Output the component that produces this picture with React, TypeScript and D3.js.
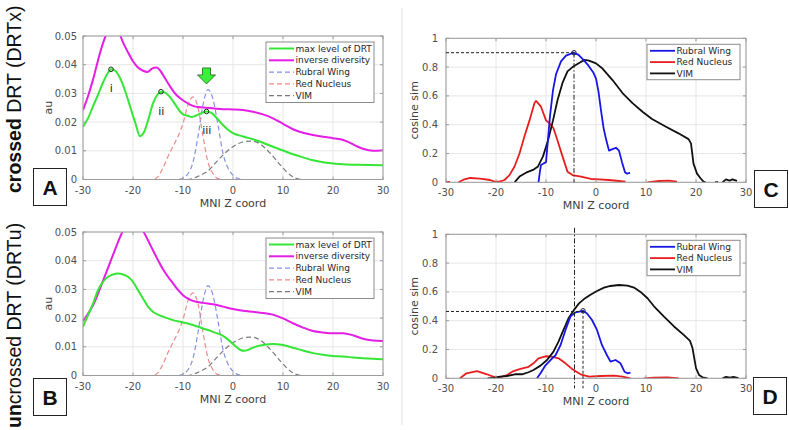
import React, { useEffect, useRef } from "react";
import * as d3 from "d3";

type Pt = [number, number];
const GAP: Pt = [NaN, NaN];

const zTicks = [-30, -20, -10, 0, 10, 20, 30];
const auTicks = [0, 0.01, 0.02, 0.03, 0.04, 0.05];
const simTicks = [0, 0.2, 0.4, 0.6, 0.8, 1];

// panel A - crossed DRT
const maxLevelA: Pt[] = [
  [-30, 0.0184], [-29, 0.0213], [-28, 0.0255], [-27, 0.0295], [-26, 0.0338], [-25, 0.0372],
  [-24.4, 0.0384], [-23.5, 0.0378], [-22.5, 0.035], [-21.5, 0.0305], [-20.5, 0.025], [-19.5, 0.0195],
  [-18.6, 0.0151], [-17.8, 0.0165], [-17, 0.0205], [-16, 0.0265], [-15, 0.0298], [-14.4, 0.0306],
  [-13.5, 0.0302], [-12.5, 0.0285], [-11.5, 0.026], [-10.5, 0.0235], [-9.8, 0.0225], [-9, 0.0222],
  [-8.3, 0.0218], [-7.5, 0.0222], [-6.5, 0.023], [-5.3, 0.0237], [-4.3, 0.0232], [-3.3, 0.0215],
  [-2.3, 0.0195], [-1.3, 0.0178], [0, 0.0162], [2, 0.015], [4, 0.014], [6, 0.0128], [8, 0.0114],
  [10, 0.0101], [12, 0.0088], [14, 0.0077], [16, 0.0067], [18, 0.006], [20, 0.0056], [22, 0.0053],
  [25, 0.0051], [30, 0.005],
];
const invDiversityA: Pt[] = [
  [-30, 0.0242], [-29, 0.029], [-28, 0.0348], [-27, 0.0415], [-26, 0.0475], [-25, 0.0518],
  [-24, 0.0535], [-23, 0.052], [-22, 0.0478], [-21, 0.0443], [-20, 0.0412], [-19, 0.039],
  [-18, 0.0379], [-17.1, 0.0375], [-16.2, 0.0386], [-15.3, 0.039], [-14.5, 0.0378], [-13.5, 0.035],
  [-12.5, 0.0322], [-11.5, 0.0298], [-10.5, 0.0282], [-9.5, 0.027], [-8.5, 0.026], [-7.5, 0.0254],
  [-6, 0.0251], [-4, 0.0248], [-2, 0.0245], [0, 0.0244], [2, 0.0242], [4, 0.0236], [6, 0.0227],
  [8, 0.0213], [10, 0.0194], [12, 0.0175], [14, 0.0163], [16, 0.0155], [18, 0.0149], [20, 0.0144],
  [21.5, 0.014], [23, 0.0131], [24.5, 0.0118], [26, 0.0107], [28, 0.01], [30, 0.0102],
];
const peaksA: Pt[] = [[-24.4, 0.0384], [-14.4, 0.0306], [-5.3, 0.0237]];
const peakNames = ["i", "ii", "iii"];
const arrowA: Pt = [-5.3, 0.0333];

// panel B - uncrossed DRT
const maxLevelB: Pt[] = [
  [-30, 0.017], [-29, 0.021], [-28, 0.025], [-27, 0.0297], [-26, 0.0326], [-25, 0.0344],
  [-24, 0.0352], [-23, 0.0355], [-22, 0.0352], [-21, 0.0344], [-20, 0.0326], [-19, 0.0297],
  [-18, 0.0268], [-17, 0.024], [-16, 0.0222], [-15, 0.0212], [-14, 0.0205], [-12, 0.0193],
  [-10, 0.0185], [-8, 0.0176], [-6, 0.0164], [-4, 0.0152], [-2, 0.0138], [-0.5, 0.0118],
  [0.5, 0.0102], [1.5, 0.0089], [2.3, 0.0086], [3, 0.0089], [4, 0.0097], [6, 0.0106], [8, 0.011],
  [10, 0.0106], [12, 0.0097], [14, 0.0087], [16, 0.0078], [18, 0.0072], [20, 0.0068], [22, 0.0066],
  [24, 0.0063], [26, 0.006], [28, 0.0058], [30, 0.0057],
];
const invDiversityB: Pt[] = [
  [-30, 0.019], [-29, 0.0215], [-28, 0.0245], [-27, 0.0285], [-26, 0.033], [-25, 0.0375],
  [-24, 0.042], [-23, 0.0465], [-22, 0.0505], [-21, 0.0535], [-20, 0.0545], [-19, 0.0535],
  [-18, 0.0505], [-17, 0.0471], [-16, 0.0436], [-15, 0.0402], [-14, 0.037], [-13, 0.0344],
  [-12, 0.0321], [-11, 0.0298], [-10, 0.028], [-9, 0.0268], [-8, 0.026], [-6, 0.0253],
  [-4, 0.0248], [-2, 0.024], [0, 0.0232], [2, 0.0226], [4, 0.0222], [6, 0.0218], [8, 0.0212],
  [10, 0.0199], [12, 0.0182], [14, 0.0167], [16, 0.0155], [18, 0.015], [20, 0.0147], [22, 0.0147],
  [24, 0.014], [26, 0.0128], [28, 0.0122], [30, 0.012],
];

// atlas profiles (dashed, same in A and B)
const rubralWingProfile: Pt[] = [
  [-30, 0], [-11, 0], [-10, 0.0005], [-9, 0.002], [-8, 0.006], [-7, 0.015], [-6, 0.026],
  [-5, 0.0313], [-4, 0.028], [-3, 0.019], [-2, 0.009], [-1, 0.004], [0, 0.0015], [1, 0.0003],
  [2, 0], [30, 0],
];
const redNucleusProfile: Pt[] = [
  [-30, 0], [-16, 0], [-15, 0.001], [-14, 0.004], [-13, 0.008], [-12, 0.0115], [-11, 0.015],
  [-10, 0.0195], [-9, 0.026], [-8, 0.0288], [-7, 0.025], [-6, 0.015], [-5, 0.006], [-4, 0.002],
  [-3, 0.0003], [-2, 0], [30, 0],
];
const vimProfile: Pt[] = [
  [-30, 0], [-9, 0], [-8, 0.0004], [-6.5, 0.0015], [-5, 0.003], [-3.5, 0.0058], [-2, 0.0085],
  [-0.5, 0.0108], [1.5, 0.0128], [3.5, 0.0134], [5.5, 0.0123], [7.5, 0.009], [9.5, 0.005],
  [11.5, 0.0015], [13, 0.0002], [14, 0], [30, 0],
];

// panel C - cosine similarity, crossed
const rubralWingC: Pt[] = [
  [-11.5, 0], [-11.2, 0.08], [-11, 0.12], [-10.5, 0.13], [-10, 0.14], [-9.6, 0.3], [-9.2, 0.46],
  [-8.6, 0.64], [-8, 0.75], [-7, 0.84], [-6, 0.88], [-4.4, 0.9], [-3.5, 0.885], [-2.5, 0.85],
  [-1.5, 0.81], [-0.5, 0.76], [0, 0.72], [0.5, 0.63], [1, 0.5], [1.5, 0.38], [2, 0.3], [2.6, 0.22],
  [3.3, 0.23], [4, 0.24], [4.6, 0.22], [5.2, 0.14], [5.8, 0.07], [6.2, 0.06], [6.8, 0.065],
];
const redNucleusC: Pt[] = [
  [-30, 0.002], [-29.2, 0.002], GAP, [-27.5, 0], [-26.5, 0.018], [-25.2, 0.03], [-23.2, 0.025],
  [-21.2, 0.016], [-20.3, 0.005], [-19.3, 0.004], [-18.3, 0.016], [-17.3, 0.05], [-16.3, 0.11],
  [-15.3, 0.2], [-14.3, 0.32], [-13.3, 0.43], [-12.3, 0.55], [-12, 0.565], [-11, 0.525], [-10, 0.43],
  [-9.3, 0.41], [-8.5, 0.375], [-7.7, 0.29], [-6.7, 0.18], [-5.7, 0.074], [-4.7, 0.05], [-3, 0.04],
  [-1, 0.023], [0.6, 0.02], [2.6, 0.016], [4.6, 0.009], [5.9, 0.005], GAP, [10.3, 0], [12.6, 0.009],
  [14.6, 0.012], [16.2, 0.005],
];
const vimC: Pt[] = [
  [-16.3, 0], [-15.3, 0.04], [-14, 0.067], [-12.6, 0.086], [-11.6, 0.11], [-10.6, 0.18], [-9.6, 0.29],
  [-8.6, 0.43], [-7.7, 0.57], [-6.7, 0.69], [-5.7, 0.77], [-4.7, 0.8], [-3.3, 0.83], [-2.3, 0.85],
  [-1.4, 0.845], [0, 0.826], [1.3, 0.79], [3.3, 0.71], [5.3, 0.62], [7.3, 0.55], [9.3, 0.49],
  [11.2, 0.44], [13.9, 0.387], [16.5, 0.34], [18.5, 0.3], [19, 0.27], [19.5, 0.13], [20.2, 0.06],
  [20.9, 0.028], [21.5, 0.005], [21.9, 0.003], GAP, [23.8, 0], [24.4, 0.003], GAP, [25.3, 0],
  [26, 0.02], [26.7, 0.012], [27.3, 0.02], [28.2, 0.01],
];
const bestC: Pt = [-4.4, 0.9];

// panel D - cosine similarity, uncrossed
const rubralWingD: Pt[] = [
  [-11.8, 0], [-11.1, 0.035], [-10.1, 0.09], [-9.1, 0.127], [-8.1, 0.16], [-7.1, 0.23], [-6.1, 0.335],
  [-5.1, 0.43], [-4.1, 0.458], [-2.6, 0.469], [-1.8, 0.45], [-0.8, 0.405], [0.2, 0.336], [1.2, 0.23],
  [2.2, 0.16], [2.9, 0.116], [3.9, 0.127], [4.9, 0.104], [5.7, 0.046], [6.3, 0.035], [6.9, 0.04],
];
const redNucleusD: Pt[] = [
  [-27.2, 0], [-25.9, 0.035], [-23.8, 0.05], [-21.8, 0.028], [-20.2, 0.007], [-19.2, 0.007],
  [-17.8, 0.023], [-16.5, 0.05], [-15.1, 0.065], [-13.5, 0.08], [-12.5, 0.104], [-11.5, 0.139],
  [-10.1, 0.153], [-8.8, 0.15], [-7.5, 0.139], [-6.1, 0.104], [-4.8, 0.065], [-3.1, 0.028],
  [-1.4, 0.012], [0.9, 0.016], [3.6, 0.019], [5.3, 0.012], [6.9, 0], GAP, [9.6, 0], [11.6, 0.005],
  [14.3, 0.006], [16.6, 0],
];
const vimD: Pt[] = [
  [-21.7, 0], [-20.5, 0.003], [-19.2, 0.012], [-17.8, 0.016], [-16.2, 0.028], [-14.8, 0.028],
  [-13.5, 0.042], [-12.5, 0.058], [-11.1, 0.088], [-9.8, 0.127], [-8.5, 0.185], [-7.5, 0.255],
  [-6.5, 0.336], [-5.5, 0.417], [-4.4, 0.475], [-3.4, 0.52], [-2.4, 0.55], [-1.1, 0.58], [0.2, 0.606],
  [1.6, 0.63], [2.9, 0.641], [4.6, 0.648], [6.3, 0.644], [7.6, 0.63], [8.9, 0.6], [10.3, 0.556],
  [11.6, 0.5], [13.6, 0.428], [15.6, 0.36], [17.6, 0.3], [18.8, 0.26], [19.3, 0.21], [20, 0.07],
  [20.6, 0.023], [21.3, 0.007], [22.3, 0], GAP, [25.3, 0], [26, 0.01], [26.8, 0.004], [27.5, 0.01],
  [28.5, 0.002],
];
const bestD: Pt = [-2.6, 0.469];
const vimMarkD = -4.3;

const profileLegend = ["max level of DRT", "inverse diversity", "Rubral Wing", "Red Nucleus", "VIM"];
const simLegend = ["Rubral Wing", "Red Nucleus", "VIM"];

const GREEN = "#36e636";
const MAGENTA = "#e41ee4";
const FONT = "'DejaVu Sans', sans-serif";

const App = () => {
  const ref = useRef<SVGSVGElement>(null);

  useEffect(() => {
    const svg = d3.select(ref.current);
    svg.selectAll("*").remove();
    const defs = svg.append("defs");

    // set up one MATLAB style axes
    const axes = (id: string, x0: number, x1: number, y0: number, y1: number, yMax: number, yTicks: number[], yLabel: string, labelGap: number) => {
      const x = d3.scaleLinear().domain([-30, 30]).range([x0, x1]);
      const y = d3.scaleLinear().domain([0, yMax]).range([y1, y0]);
      defs.append("clipPath").attr("id", id).append("rect")
        .attr("x", x0).attr("y", y0).attr("width", x1 - x0).attr("height", y1 - y0);
      const g = svg.append("g");
      g.append("rect").attr("x", x0).attr("y", y0).attr("width", x1 - x0).attr("height", y1 - y0).attr("fill", "white");
      g.selectAll(".gx").data(zTicks).join("line")
        .attr("x1", d => x(d)).attr("x2", d => x(d)).attr("y1", y0).attr("y2", y1)
        .attr("stroke", "#e6e6e6");
      g.selectAll(".gy").data(yTicks).join("line")
        .attr("y1", d => y(d)).attr("y2", d => y(d)).attr("x1", x0).attr("x2", x1)
        .attr("stroke", "#e6e6e6");
      const plot = svg.append("g").attr("clip-path", `url(#${id})`);
      const top = svg.append("g");
      top.append("rect").attr("x", x0).attr("y", y0).attr("width", x1 - x0).attr("height", y1 - y0)
        .attr("fill", "none").attr("stroke", "#9c9c9c");
      top.selectAll(".tx").data(zTicks).join("path")
        .attr("d", d => `M${x(d)},${y1}v-3M${x(d)},${y0}v3`).attr("stroke", "#9c9c9c");
      top.selectAll(".ty").data(yTicks).join("path")
        .attr("d", d => `M${x0},${y(d)}h3M${x1},${y(d)}h-3`).attr("stroke", "#9c9c9c");
      top.selectAll(".lx").data(zTicks).join("text")
        .attr("x", d => x(d)).attr("y", y1 + 14).attr("text-anchor", "middle")
        .attr("font-family", FONT).attr("font-size", 10).attr("fill", "#505050").text(d => String(d));
      top.selectAll(".ly").data(yTicks).join("text")
        .attr("x", x0 - labelGap).attr("y", d => y(d)).attr("dy", "0.35em").attr("text-anchor", "end")
        .attr("font-family", FONT).attr("font-size", 10).attr("fill", "#505050").text(d => String(d));
      top.append("text").attr("x", (x0 + x1) / 2).attr("y", y1 + 27).attr("text-anchor", "middle")
        .attr("font-family", FONT).attr("font-size", 11).attr("fill", "#404040").text("MNI Z coord");
      const yl = yLabel === "au" ? x0 - 31 : x0 - 28;
      top.append("text").attr("transform", `translate(${yl},${(y0 + y1) / 2}) rotate(-90)`)
        .attr("text-anchor", "middle").attr("font-family", FONT).attr("font-size", 11)
        .attr("fill", "#404040").text(yLabel);
      return { x, y, plot, top };
    };

    const drawLine = (g: any, x: any, y: any, data: Pt[], color: string, width: number, dash: string | null, smooth: boolean) => {
      const line = d3.line<Pt>()
        .defined(d => !isNaN(d[1]))
        .x(d => x(d[0])).y(d => y(d[1]))
        .curve(smooth ? d3.curveMonotoneX : d3.curveLinear);
      g.append("path").attr("d", line(data)).attr("fill", "none").attr("stroke", color)
        .attr("stroke-width", width).attr("stroke-dasharray", dash).attr("stroke-linejoin", "round");
    };

    const legend = (g: any, lx: number, ly: number, w: number, rowH: number, items: { name: string; color: string; dash: string | null; width: number }[]) => {
      g.append("rect").attr("x", lx).attr("y", ly).attr("width", w).attr("height", rowH * items.length + 1.5)
        .attr("fill", "white").attr("stroke", "#8c8c8c");
      items.forEach((it, i) => {
        const cy = ly + 6.5 + i * rowH;
        g.append("line").attr("x1", lx + 3).attr("x2", lx + 28).attr("y1", cy).attr("y2", cy)
          .attr("stroke", it.color).attr("stroke-width", it.width).attr("stroke-dasharray", it.dash);
        g.append("text").attr("x", lx + 29.5).attr("y", cy).attr("dy", "0.35em")
          .attr("font-family", FONT).attr("font-size", 9).attr("fill", "#262626").text(it.name);
      });
    };

    const profileColors = [
      { color: GREEN, dash: null, width: 2 },
      { color: MAGENTA, dash: null, width: 2 },
      { color: "#8591e6", dash: "5,3", width: 1.2 },
      { color: "#f08a8a", dash: "5,3", width: 1.2 },
      { color: "#7a7a7a", dash: "5,3", width: 1.2 },
    ];

    // panels A and B
    const profilePanel = (id: string, y0: number, y1: number, maxLevel: Pt[], invDiv: Pt[]) => {
      const a = axes(id, 83, 383, y0, y1, 0.05, auTicks, "au", 6);
      drawLine(a.plot, a.x, a.y, rubralWingProfile, "#8591e6", 1.2, "5,3", true);
      drawLine(a.plot, a.x, a.y, redNucleusProfile, "#f08a8a", 1.2, "5,3", true);
      drawLine(a.plot, a.x, a.y, vimProfile, "#7a7a7a", 1.2, "5,3", true);
      drawLine(a.plot, a.x, a.y, invDiv, MAGENTA, 2, null, true);
      drawLine(a.plot, a.x, a.y, maxLevel, GREEN, 2, null, true);
      legend(a.top, 266, y0 + 6, 108, 11.8, profileLegend.map((n, i) => ({ name: n, ...profileColors[i] })));
      return a;
    };

    const A = profilePanel("clipA", 36, 179.5, maxLevelA, invDiversityA);
    A.top.selectAll(".pk").data(peaksA).join("circle")
      .attr("cx", d => A.x(d[0])).attr("cy", d => A.y(d[1])).attr("r", 2.3)
      .attr("fill", "none").attr("stroke", "#1a3a1a").attr("stroke-width", 1);
    A.top.selectAll(".pkl").data(peaksA).join("text")
      .attr("x", d => A.x(d[0]) + 0.3).attr("y", d => A.y(d[1]) + 23)
      .attr("text-anchor", "middle").attr("font-family", FONT).attr("font-size", 11).attr("fill", "#222")
      .text((d, i) => peakNames[i]);
    {
      const cx = A.x(arrowA[0]);
      const ty = A.y(arrowA[1]);
      A.top.append("path")
        .attr("d", `M${cx - 4},${ty - 16}h8v7h5l-9,9l-9,-9h5z`)
        .attr("fill", "#3af03a").attr("stroke", "#1f5f1f").attr("stroke-width", 0.8);
    }

    profilePanel("clipB", 232, 375.5, maxLevelB, invDiversityB);

    // panels C and D
    const simColors = [
      { color: "#1616e8", dash: null, width: 1.8 },
      { color: "#e81e1e", dash: null, width: 1.8 },
      { color: "#111111", dash: null, width: 1.8 },
    ];
    const simPanel = (id: string, y0: number, y1: number, rw: Pt[], rn: Pt[], vim: Pt[]) => {
      const a = axes(id, 446, 746, y0, y1, 1, simTicks, "cosine sim", 8);
      drawLine(a.plot, a.x, a.y, rn, "#e81e1e", 1.8, null, false);
      drawLine(a.plot, a.x, a.y, vim, "#111111", 1.8, null, false);
      drawLine(a.plot, a.x, a.y, rw, "#1616e8", 1.8, null, false);
      legend(a.top, 647, y0 + 6, 93, 11.3, simLegend.map((n, i) => ({ name: n, ...simColors[i] })));
      return a;
    };

    const C = simPanel("clipC", 38.3, 182.3, rubralWingC, redNucleusC, vimC);
    C.top.append("line").attr("x1", C.x(-30)).attr("x2", C.x(bestC[0]))
      .attr("y1", C.y(bestC[1])).attr("y2", C.y(bestC[1]))
      .attr("stroke", "#222").attr("stroke-dasharray", "3,2");
    C.top.append("line").attr("x1", C.x(bestC[0])).attr("x2", C.x(bestC[0]))
      .attr("y1", C.y(bestC[1])).attr("y2", C.y(0))
      .attr("stroke", "#222").attr("stroke-dasharray", "5,2,1.5,2");
    C.top.append("circle").attr("cx", C.x(bestC[0])).attr("cy", C.y(bestC[1])).attr("r", 2.2)
      .attr("fill", "none").attr("stroke", "#1a1a50").attr("stroke-width", 1);

    const D = simPanel("clipD", 234.3, 378.3, rubralWingD, redNucleusD, vimD);
    D.top.append("line").attr("x1", D.x(-30)).attr("x2", D.x(bestD[0]))
      .attr("y1", D.y(bestD[1] - 0.005)).attr("y2", D.y(bestD[1] - 0.005))
      .attr("stroke", "#222").attr("stroke-dasharray", "3,2");
    D.top.append("line").attr("x1", D.x(bestD[0])).attr("x2", D.x(bestD[0]))
      .attr("y1", D.y(bestD[1])).attr("y2", D.y(-0.07))
      .attr("stroke", "#222").attr("stroke-dasharray", "3,2");
    D.top.append("line").attr("x1", D.x(vimMarkD)).attr("x2", D.x(vimMarkD))
      .attr("y1", D.y(1.045)).attr("y2", D.y(-0.07))
      .attr("stroke", "#222").attr("stroke-dasharray", "5,2,1.5,2");
    D.top.append("circle").attr("cx", D.x(bestD[0])).attr("cy", D.y(bestD[1])).attr("r", 2.2)
      .attr("fill", "none").attr("stroke", "#1a1a50").attr("stroke-width", 1);

    // divider between columns
    svg.append("line").attr("x1", 402).attr("x2", 402).attr("y1", 8).attr("y2", 425)
      .attr("stroke", "#e2e2e2");

    // row titles
    const rowTitle = (yStart: number, bold: string, rest: string, boldFirst: boolean) => {
      const t = svg.append("text").attr("transform", `translate(21,${yStart}) rotate(-90)`)
        .attr("font-family", "'Liberation Sans', Arial, sans-serif").attr("font-size", 19.5).attr("fill", "#111");
      t.append("tspan").attr("font-weight", "bold").text(bold);
      t.append("tspan").attr("font-weight", "normal").text(rest);
      return boldFirst;
    };
    rowTitle(193, "crossed", " DRT (DRTx)", true);
    rowTitle(428, "un", "crossed DRT (DRTu)", true);

    // panel letters
    const letters: [string, number, number][] = [["A", 33, 168], ["B", 33, 378], ["C", 754, 170], ["D", 753, 377]];
    letters.forEach(([s, bx, by]) => {
      svg.append("rect").attr("x", bx + 0.5).attr("y", by + 0.5).attr("width", 33).attr("height", 37)
        .attr("fill", "white").attr("stroke", "#222");
      svg.append("text").attr("x", bx + 17).attr("y", by + 19).attr("dy", "0.36em").attr("text-anchor", "middle")
        .attr("font-family", "'Liberation Sans', Arial, sans-serif").attr("font-weight", "bold")
        .attr("font-size", 21).attr("fill", "#111").text(s);
    });
  }, []);

  return (
    <div style={{ position: "absolute", left: 0, top: 0 }}>
      <svg ref={ref} width={789} height={430} style={{ display: "block", background: "white" }} />
    </div>
  );
};

export default App;
